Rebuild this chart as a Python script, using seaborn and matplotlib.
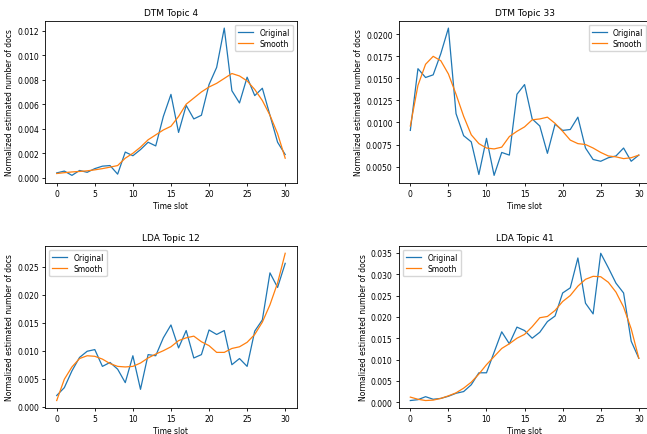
import numpy as np
import pandas as pd
import matplotlib
matplotlib.use('Agg')
import matplotlib.pyplot as plt
import seaborn as sns

# time slots shared by every topic
slots = list(range(31))

# DTM topic 4
dtm4_orig = [0.0004, 0.00055, 0.0002, 0.0006, 0.00045, 0.00075, 0.00095, 0.001, 0.0003, 0.0021,
             0.0018, 0.0023, 0.0029, 0.0026, 0.005, 0.0068, 0.0037, 0.0059, 0.0048, 0.0051,
             0.0076, 0.009, 0.0122, 0.0071, 0.0061, 0.0082, 0.0067, 0.0073, 0.0051, 0.0029, 0.0019]
dtm4_smooth = [0.00035, 0.00042, 0.00048, 0.00052, 0.00057, 0.00065, 0.00075, 0.00087, 0.001, 0.0016,
               0.002, 0.0025, 0.0031, 0.0035, 0.0039, 0.0042, 0.005, 0.006, 0.0065, 0.007,
               0.0074, 0.0077, 0.0081, 0.0085, 0.0083, 0.0079, 0.0072, 0.0063, 0.0051, 0.0036, 0.0016]

# DTM topic 33
dtm33_orig = [0.0091, 0.0161, 0.0151, 0.0154, 0.0178, 0.0207, 0.011, 0.0085, 0.0078, 0.0041,
              0.0082, 0.004, 0.0066, 0.0063, 0.0132, 0.0143, 0.0104, 0.0096, 0.0065, 0.0098,
              0.0091, 0.0092, 0.0106, 0.0071, 0.0058, 0.0056, 0.006, 0.0062, 0.0071, 0.0056, 0.0063]
dtm33_smooth = [0.0096, 0.0142, 0.0166, 0.0175, 0.017, 0.0155, 0.0132, 0.0107, 0.0086, 0.0076,
                0.0071, 0.007, 0.0072, 0.0084, 0.009, 0.0095, 0.0103, 0.0104, 0.0106, 0.0099,
                0.009, 0.008, 0.0076, 0.0075, 0.0071, 0.0066, 0.0062, 0.0061, 0.0059, 0.006, 0.0063]

# LDA topic 12
lda12_orig = [0.002, 0.0034, 0.0064, 0.0088, 0.0099, 0.0102, 0.0072, 0.0079, 0.0067, 0.0043,
              0.0091, 0.0031, 0.0093, 0.0091, 0.0123, 0.0146, 0.0105, 0.0136, 0.0087, 0.0093,
              0.0137, 0.0129, 0.0136, 0.0075, 0.0086, 0.0072, 0.0135, 0.0155, 0.0239, 0.0213, 0.0256]
lda12_smooth = [0.0011, 0.0049, 0.0071, 0.0086, 0.0091, 0.009, 0.0085, 0.0077, 0.0072, 0.0071,
                0.0072, 0.0078, 0.0087, 0.0094, 0.01, 0.0107, 0.0118, 0.0123, 0.0126, 0.0116,
                0.0109, 0.0097, 0.0097, 0.0104, 0.0107, 0.0115, 0.0129, 0.0151, 0.0182, 0.0221, 0.0274]

# LDA topic 41
lda41_orig = [0.0004, 0.0006, 0.0013, 0.0007, 0.0009, 0.0014, 0.0021, 0.0025, 0.0041, 0.0069,
              0.0069, 0.0117, 0.0165, 0.0137, 0.0176, 0.0168, 0.015, 0.0164, 0.0189, 0.0202,
              0.0256, 0.0268, 0.0338, 0.0232, 0.0207, 0.0349, 0.0315, 0.0279, 0.0256, 0.0143, 0.0103]
lda41_smooth = [0.0012, 0.0007, 0.0004, 0.0005, 0.0009, 0.0015, 0.0022, 0.0033, 0.0047, 0.0066,
                0.0088, 0.0107, 0.0126, 0.0137, 0.015, 0.0159, 0.0177, 0.0198, 0.0201, 0.0215,
                0.0236, 0.025, 0.0272, 0.0288, 0.0295, 0.0294, 0.0281, 0.0258, 0.0223, 0.0172, 0.0103]

panels = [
    ('DTM Topic 4', dtm4_orig, dtm4_smooth, 'upper right'),
    ('DTM Topic 33', dtm33_orig, dtm33_smooth, 'upper right'),
    ('LDA Topic 12', lda12_orig, lda12_smooth, 'upper left'),
    ('LDA Topic 41', lda41_orig, lda41_smooth, 'upper left'),
]

plt.rcParams.update({
    'font.family': ['DejaVu Sans'],
    'font.size': 5.5,
    'axes.linewidth': 0.6,
    'xtick.major.width': 0.6,
    'ytick.major.width': 0.6,
    'xtick.major.size': 2.5,
    'ytick.major.size': 2.5,
})

fig, axes = plt.subplots(2, 2, figsize=(6.47, 4.35), dpi=100)
fig.subplots_adjust(left=0.07, right=1.005, top=0.95, bottom=0.06, wspace=0.407, hspace=0.39)

for ax, (title, orig, smooth, loc) in zip(axes.flat, panels):
    df = pd.DataFrame({'slot': slots, 'Original': orig, 'Smooth': smooth})
    sns.lineplot(data=df, x='slot', y='Original', color='#1f77b4', lw=0.9, label='Original', ax=ax)
    sns.lineplot(data=df, x='slot', y='Smooth', color='#ff7f0e', lw=0.9, label='Smooth', ax=ax)
    ax.set_title(title, fontsize=6.5, pad=4)
    ax.set_xlabel('Time slot', fontsize=5.5, labelpad=2)
    ax.set_ylabel('Normalized estimated number of docs', fontsize=5.5, labelpad=2)
    ax.set_xticks([0, 5, 10, 15, 20, 25, 30])
    ax.tick_params(labelsize=5.5, pad=2)
    ax.legend(loc=loc, fontsize=5.5, handlelength=2.0, borderpad=0.4, labelspacing=0.3)

fig.savefig('out.png', dpi=100)
